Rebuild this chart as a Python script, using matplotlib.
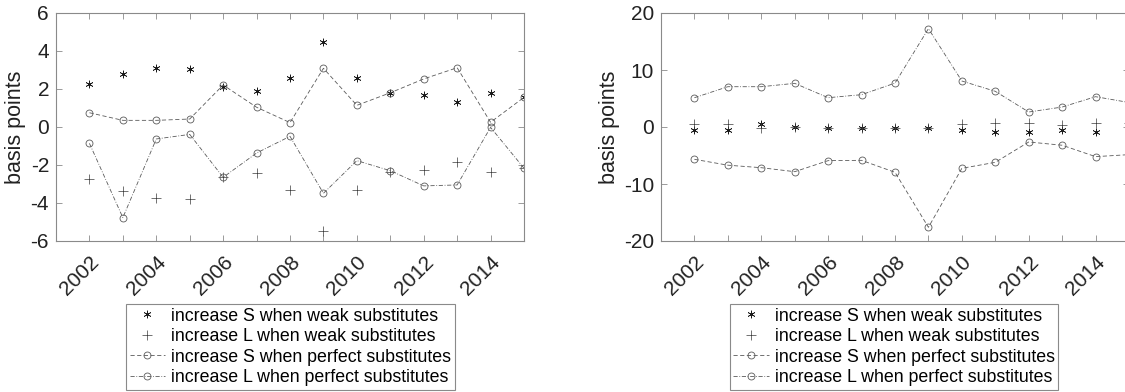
import matplotlib
matplotlib.use("Agg")
import matplotlib.pyplot as plt

plt.rcParams['font.family'] = ['Liberation Sans', 'DejaVu Sans']
plt.rcParams['axes.unicode_minus'] = False

years = list(range(2002, 2016))
year_labels = [str(y) if y % 2 == 0 else '' for y in years]

labels = ['increase S when weak substitutes',
          'increase L when weak substitutes',
          'increase S when perfect substitutes',
          'increase L when perfect substitutes']

# left panel
left_s_weak = [2.25, 2.8, 3.12, 3.05, 2.12, 1.9, 2.56, 4.46, 2.56, 1.8, 1.7, 1.33, 1.8, 1.56]
left_l_weak = [-2.75, -3.35, -3.72, -3.77, -2.65, -2.44, -3.32, -5.46, -3.32, -2.35, -2.26, -1.82, -2.35, -2.17]
left_s_perf = [0.75, 0.35, 0.35, 0.42, 2.21, 1.04, 0.23, 3.09, 1.14, 1.8, 2.53, 3.12, 0.25, 1.56]
left_l_perf = [-0.86, -4.77, -0.63, -0.39, -2.65, -1.37, -0.49, -3.49, -1.77, -2.3, -3.1, -3.05, -0.02, -2.17]
left_yticks = [-6, -4, -2, 0, 2, 4, 6]

# right panel
right_s_weak = [-0.5, -0.5, 0.45, 0.0, -0.1, -0.2, -0.2, -0.1, -0.5, -0.9, -0.9, -0.5, -0.9, -0.9]
right_l_weak = [0.6, 0.5, -0.25, 0.0, -0.1, -0.2, -0.2, -0.1, 0.5, 0.75, 0.75, 0.4, 0.75, 0.75]
right_s_perf = [-5.67, -6.7, -7.14, -7.84, -5.9, -5.85, -7.95, -17.6, -7.25, -6.2, -2.63, -3.2, -5.2, -4.85]
right_l_perf = [5.14, 7.07, 7.07, 7.66, 5.14, 5.67, 7.7, 17.25, 8.07, 6.26, 2.63, 3.5, 5.32, 4.3]
right_yticks = [-20, -10, 0, 10, 20]

fig = plt.figure(figsize=(11.25, 3.92), dpi=100)

axis_gray = '#8a8a8a'
line_gray = '#5a5a5a'
asterisk = (6, 2, 0)


def panel(rect, s_weak, l_weak, s_perf, l_perf, yticks, ylab_x, leg_x):
    ax = fig.add_axes(rect)
    ax.plot(years, s_weak, linestyle='none', marker=asterisk, color='#1a1a1a',
            markersize=5.5, markeredgewidth=0.5)
    ax.plot(years, l_weak, linestyle='none', marker='+', color='#3a3a3a',
            markersize=7, markeredgewidth=0.5)
    ax.plot(years, s_perf, linestyle=(0, (5, 3)), marker='o', color=line_gray,
            linewidth=0.6, markersize=5, markerfacecolor='none', markeredgewidth=0.6)
    ax.plot(years, l_perf, linestyle=(0, (5, 2, 1, 2)), marker='o', color=line_gray,
            linewidth=0.6, markersize=5, markerfacecolor='none', markeredgewidth=0.6)

    ax.set_xlim(2001, 2015)
    ax.set_ylim(yticks[0], yticks[-1])
    ax.set_xticks(years)
    ax.set_xticklabels(year_labels, rotation=45, ha='right', va='top',
                       rotation_mode='anchor')
    ax.set_yticks(yticks)
    ax.tick_params(direction='in', top=True, right=True, length=4, width=0.6,
                   color=axis_gray, labelsize=15, labelcolor='#222222')
    ax.tick_params(axis='x', pad=8)
    ax.tick_params(axis='y', pad=5)
    for sp in ax.spines.values():
        sp.set_color(axis_gray)
        sp.set_linewidth(0.8)
    ax.set_ylabel('basis points', fontsize=15.5, color='#222222')
    ax.yaxis.set_label_coords(ylab_x, 0.5)

    leg = ax.legend(labels, loc='upper center', bbox_to_anchor=(leg_x, 0.2245),
                    bbox_transform=fig.transFigure, fontsize=12.8, frameon=True,
                    fancybox=False, framealpha=1, edgecolor=axis_gray,
                    borderaxespad=0, borderpad=0.2, labelspacing=0.2,
                    handlelength=2.0, handletextpad=0.35)
    leg.get_frame().set_linewidth(0.8)
    return ax


panel([56 / 1125, 151 / 392, 468 / 1125, 228 / 392],
      left_s_weak, left_l_weak, left_s_perf, left_l_perf, left_yticks, -0.064, 290.5 / 1125)
panel([661 / 1125, 151 / 392, 468 / 1125, 228 / 392],
      right_s_weak, right_l_weak, right_s_perf, right_l_perf, right_yticks, -0.088, 894 / 1125)

fig.savefig('out.png', dpi=100)
